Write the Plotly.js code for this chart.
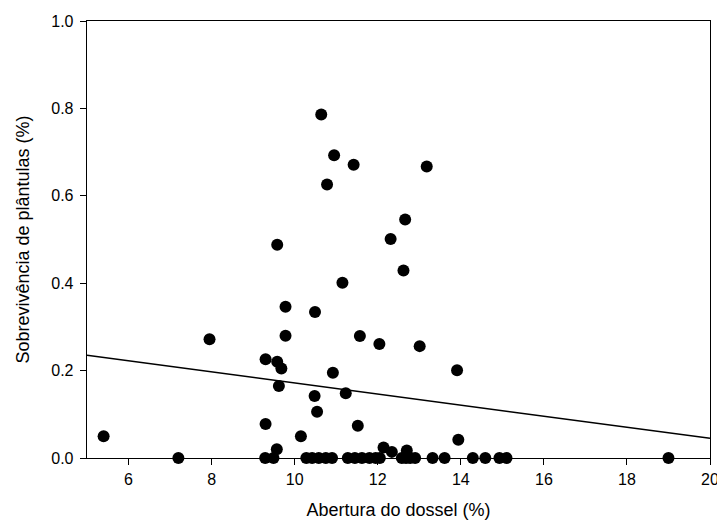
<!DOCTYPE html>
<html>
<head>
<meta charset="utf-8">
<script src="https://cdn.plot.ly/plotly-3.0.1.min.js"></script>
<style>html,body{margin:0;padding:0;background:#fff;}#chart{width:717px;height:529px;}</style>
</head>
<body>
<div id="chart"></div>
<script>
// Canopy openness (%) and seedling survival
const aberturaDossel = [
  5.40, 7.20, 7.95, 9.30, 9.30, 9.29, 9.49, 9.57, 9.58, 9.58,
  9.68, 9.62, 9.78, 9.78, 10.15, 10.28, 10.42, 10.49, 10.48, 10.54,
  10.58, 10.64, 10.75, 10.78, 10.92, 10.90, 10.95, 11.15, 11.23, 11.28,
  11.42, 11.45, 11.52, 11.57, 11.62, 11.80, 11.95, 12.04, 12.05, 12.14,
  12.31, 12.34, 12.62, 12.66, 12.58, 12.68, 12.70, 12.78, 12.90, 13.01,
  13.18, 13.32, 13.61, 13.91, 13.94, 14.29, 14.59, 14.93, 15.10, 19.00
];
const sobrevivencia = [
  0.050, 0.000, 0.272, 0.226, 0.078, 0.000, 0.000, 0.020, 0.488, 0.220,
  0.205, 0.165, 0.346, 0.280, 0.050, 0.000, 0.000, 0.334, 0.142, 0.106,
  0.000, 0.786, 0.000, 0.626, 0.195, 0.000, 0.693, 0.401, 0.148, 0.000,
  0.671, 0.000, 0.074, 0.279, 0.000, 0.000, 0.000, 0.261, 0.000, 0.024,
  0.501, 0.014, 0.429, 0.546, 0.000, 0.000, 0.017, 0.000, 0.000, 0.256,
  0.667, 0.000, 0.000, 0.201, 0.042, 0.000, 0.000, 0.000, 0.000, 0.000
];
// Fitted regression line end points
const linhaX = [5, 20];
const linhaY = [0.235, 0.045];
const xTicks = [6, 8, 10, 12, 14, 16, 18, 20];
const yTicks = [0.0, 0.2, 0.4, 0.6, 0.8, 1.0];

const font = 'Arial, "Liberation Sans", sans-serif';

const traces = [
  {
    x: linhaX, y: linhaY, mode: 'lines', type: 'scatter',
    line: {color: '#000', width: 1.5}, hoverinfo: 'skip', cliponaxis: false
  },
  {
    x: aberturaDossel, y: sobrevivencia, mode: 'markers', type: 'scatter',
    marker: {color: '#000', size: 12, line: {width: 0}}, cliponaxis: false
  }
];

const layout = {
  width: 717, height: 529,
  margin: {l: 86.5, r: 7, t: 20.5, b: 71, pad: 0},
  paper_bgcolor: '#fff', plot_bgcolor: '#fff',
  showlegend: false,
  font: {family: font, color: '#000', size: 16},
  xaxis: {
    range: [5, 20], tickvals: xTicks, ticktext: xTicks.map(String),
    ticks: 'outside', ticklen: 6, tickwidth: 1, tickcolor: '#000',
    showline: true, linecolor: '#000', linewidth: 1.3, mirror: true,
    showgrid: false, zeroline: false, automargin: false,
    ticklabeloverflow: 'allow',
    tickfont: {family: font, size: 16, color: '#000'},
    title: {text: 'Abertura do dossel (%)', font: {family: font, size: 18, color: '#000'}, standoff: 17}
  },
  yaxis: {
    range: [0, 1], tickvals: yTicks, ticktext: yTicks.map(v => v.toFixed(1)),
    ticks: 'outside', ticklen: 6, tickwidth: 1, tickcolor: '#000',
    showline: true, linecolor: '#000', linewidth: 1.3, mirror: true,
    showgrid: false, zeroline: false, automargin: false,
    ticklabelstandoff: 3,
    tickfont: {family: font, size: 16, color: '#000'},
    title: {text: 'Sobrevivência de plântulas (%)', font: {family: font, size: 18, color: '#000'}, standoff: 17}
  }
};

Plotly.newPlot('chart', traces, layout, {displayModeBar: false, staticPlot: true});
</script>
</body>
</html>
